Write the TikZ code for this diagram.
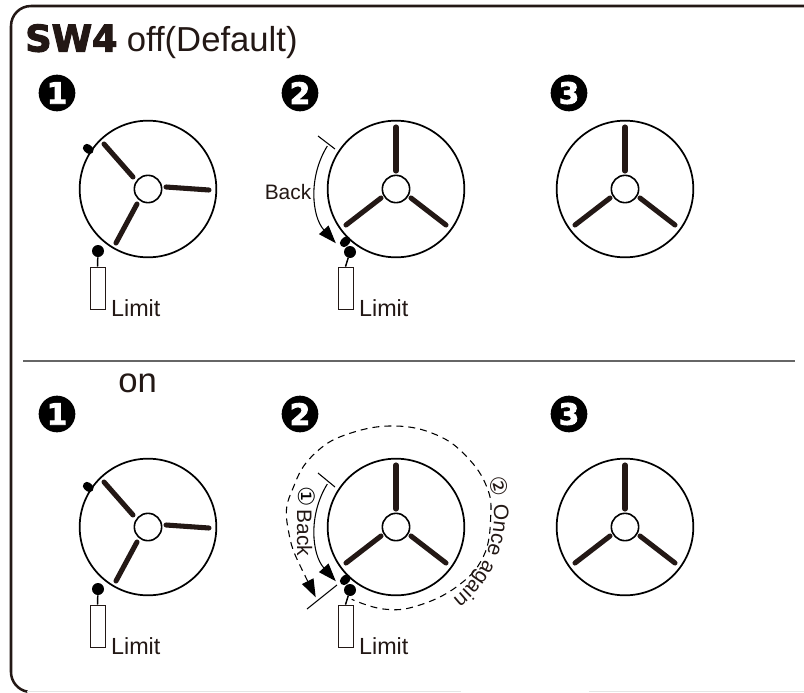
\documentclass[tikz,border=0pt]{standalone}
\usepackage{fontspec}
\setmainfont{Liberation Sans}
\newfontfamily\heavyfont[BoldFeatures={FakeBold=3}]{DejaVu Sans}
\newfontfamily\circfont{DejaVu Sans}
\usetikzlibrary{calc,arrows.meta,decorations.text}
\definecolor{ink}{HTML}{231815}

\newcommand{\wheelA}[3]{
    \node[wheel] (#1) at (#2,#3) {};
    \node[hub] (#1h) at (#2,#3) {};
    \draw[spoke] ($(#1)+(18,-2)$) -- ($(#1)+(61,1)$);
    \draw[spoke] ($(#1)+(-15,-12)$) -- ($(#1)+(-44,-45)$);
    \draw[spoke] ($(#1)+(-11,15)$) -- ($(#1)+(-32,54)$);
}
\newcommand{\wheelB}[3]{
    \node[wheel] (#1) at (#2,#3) {};
    \node[hub] (#1h) at (#2,#3) {};
    \draw[spoke] ($(#1)+(0,-18)$) -- ($(#1)+(0,-62)$);
    \draw[spoke] ($(#1)+(-15,9)$) -- ($(#1)+(-50,36)$);
    \draw[spoke] ($(#1)+(15,9)$) -- ($(#1)+(50,36)$);
}
\newcommand{\limitsw}[5]{
    \node[limitbox] (#1b) at (#2,#3) {};
    \node[ball] (#1p) at (#4,#5) {};
    \draw[stem] (#1p) -- (#1b.north);
    \node[plain, anchor=base west] (#1t) at ($(#1b.north east)+(5.5,50)$) {Limit};
}

\begin{document}
\begin{tikzpicture}[x=.75pt,y=-.75pt]
    \tikzstyle{wheel}=[circle, draw=black, line width=1.3pt, inner sep=0pt, minimum size=102.5pt]
    \tikzstyle{hub}=[circle, draw=black, line width=1.2pt, inner sep=0pt, minimum size=20.5pt]
    \tikzstyle{spoke}=[ink, line width=3.8pt, line cap=round]
    \tikzstyle{tab}=[black, line width=6.2pt, line cap=round]
    \tikzstyle{limitbox}=[rectangle, draw=ink, line width=.6pt, inner sep=0pt, minimum width=11.2pt, minimum height=31.5pt]
    \tikzstyle{ball}=[circle, fill=black, inner sep=0pt, minimum size=9pt]
    \tikzstyle{stem}=[black, line width=1.1pt]
    \tikzstyle{num}=[circle, fill=black, text=white, inner sep=0pt, minimum size=27.5pt, font=\heavyfont\bfseries\fontsize{22}{22}\selectfont]
    \tikzstyle{plain}=[inner sep=0pt, text=ink, font=\fontsize{17.5}{20}\selectfont]
    \tikzstyle{big}=[inner sep=0pt, text=ink, anchor=base west, font=\fontsize{26}{30}\selectfont]
    \tikzstyle{small}=[inner sep=0pt, text=ink, font=\fontsize{15.7}{18}\selectfont]
    \tikzstyle{thinarrow}=[black, line width=.8pt, -{Triangle[length=13.5pt,width=9.5pt]}]
    \tikzstyle{tick}=[black, line width=.8pt]

    \useasboundingbox (0,0) rectangle (804,693);

    % frame
    \draw[ink, line width=1.9pt] (804,6) -- (31,6) arc[start angle=270, end angle=180, radius=20] -- (11,672) arc[start angle=180, end angle=100, radius=20];
    \draw[black!10, line width=.8pt] (27,691.5) -- (461,691.5);
    \draw[black!10, line width=.8pt] (589,691.5) -- (804,691.5);
    \draw[black!60, line width=.8pt] (23,361) -- (795,361);

    % titles
    \node[inner sep=0pt, anchor=base west, text=ink, font=\heavyfont\bfseries\fontsize{27.5}{30}\selectfont] (sw) at (25,51.5) {SW4};
    \node[big] (off) at (126.5,51.5) {off(Default)};
    \node[big] (on) at (118,392) {on};

    \node[num] (n1) at (57,93) {1};
    \node[num] (n2) at (300,93) {2};
    \node[num] (n3) at (569,93) {3};
    \node[num] (n4) at (57,414) {1};
    \node[num] (n5) at (300,414) {2};
    \node[num] (n6) at (569,414) {3};

    % off
    \draw[tab] (87,148) -- (89.5,150);
    \wheelA{w1}{148}{189}
    \limitsw{a}{97.5}{288}{98}{251}

    \draw[tab] (344,243) -- (346.5,240.5);
    \wheelB{w2}{396}{189}
    \limitsw{b}{345.5}{288}{350}{252}
    \coordinate (s2) at ($(w2)+(212:81)$);
    \draw[thinarrow] (s2) arc[start angle=212, end angle=138, radius=81];
    \coordinate (t2a) at (318,136);
    \coordinate (t2b) at (335,149);
    \draw[tick] (t2a) -- (t2b);
    \node[small, anchor=base west] (back) at (264.5,199) {Back};

    \wheelB{w3}{625}{189}

    % on
    \draw[tab] (87,486) -- (89.5,488);
    \wheelA{w4}{148}{527}
    \limitsw{c}{97.5}{626}{98}{589}

    \draw[tab] (344,581) -- (346.5,578.5);
    \wheelB{w5}{396}{527}
    \limitsw{d}{345.5}{626}{350}{590}
    \coordinate (s5) at ($(w5)+(212:81)$);
    \draw[thinarrow] (s5) arc[start angle=212, end angle=138, radius=81];
    \coordinate (t5a) at (318,473);
    \coordinate (t5b) at (335,487);
    \draw[tick] (t5a) -- (t5b);
    \coordinate (t5c) at (307,609);
    \coordinate (t5d) at (337,585);
    \draw[tick] (t5c) -- (t5d);

    \draw[black, line width=.8pt, dash pattern=on 5.2pt off 3.8pt, <-, >={Triangle[length=13.5pt,width=9.5pt]}] plot[smooth, tension=.7] coordinates {(315.7,597.3) (287.7,526.7) (295,483.3) (316.7,451.7) (350,433.3) (395,426) (436.7,435) (466.7,456.7) (486.7,486.7) (490.7,516.7) (483.3,556.7) (456.7,586.7) (416.7,606) (383.3,609) (351.7,599.3)};

    \node[inner sep=0pt, rotate=-90, font=\circfont\fontsize{17}{20}\selectfont] (c1) at (307,497) {①};
    \node[small, rotate=-90] (back2) at (304.5,533) {Back};
    \path[decorate, decoration={text along path, text align=left, text={|\color{ink}\fontsize{15.7}{18}\selectfont|{\circfont\fontsize{17}{20}\selectfont ②} Once again}}]
        ($(389,515)+(-20:105)$) arc[start angle=-20, end angle=60, radius=105];

    \wheelB{w6}{625}{527}
\end{tikzpicture}
\end{document}
